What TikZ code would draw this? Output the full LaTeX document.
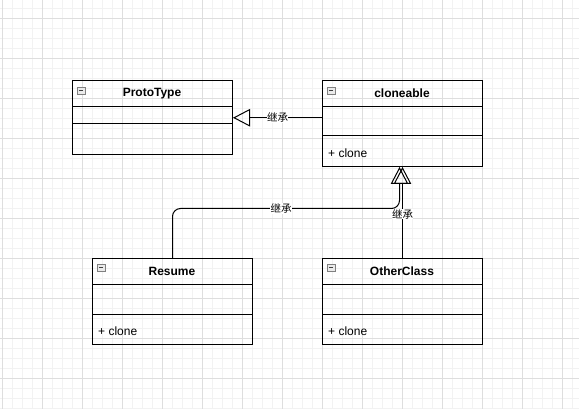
\documentclass[tikz,border=0pt]{standalone}
\usepackage{fontspec}
\setmainfont{Liberation Sans}
\newfontfamily\cjkfont{Noto Sans CJK SC}
\usetikzlibrary{arrows.meta}
\begin{document}
\begin{tikzpicture}[x=1pt,y=-1pt,
  gridminor/.style={draw=black!5, line width=0.8pt},
  gridmajor/.style={draw=black!13, line width=0.8pt},
  classbox/.style={draw, line width=1pt, inner sep=0pt, minimum width=160pt, anchor=north west},
  compartment/.style={line width=1pt},
  classname/.style={font=\bfseries\fontsize{12}{14}\selectfont, inner sep=0pt},
  member/.style={font=\fontsize{12}{14}\selectfont, anchor=west, inner sep=0pt},
  foldicon/.style={draw=black!50, fill=black!8, line width=0.6pt, minimum width=8pt, minimum height=7pt, inner sep=0pt,
    path picture={\draw[line width=1pt, black!75] ([xshift=-2.2pt]path picture bounding box.center) -- ([xshift=2.2pt]path picture bounding box.center);}},
  inherit/.style={draw, line width=1pt, -{Triangle[open, length=17pt, width=17.5pt, line width=1pt]}},
  edgelabel/.style={font=\cjkfont\fontsize{10.5}{12}\selectfont, fill=white, inner sep=0.3pt}
]
\useasboundingbox (0,0) rectangle (579,409);
\fill[white] (0,0) rectangle (579,409);

% background grid
\foreach \x in {2,12,...,572} \draw[gridminor] (\x,0) -- (\x,409);
\foreach \y in {8,18,...,408} \draw[gridminor] (0,\y) -- (579,\y);
\foreach \x in {2,42,...,562} \draw[gridmajor] (\x,0) -- (\x,409);
\foreach \y in {18,58,...,378} \draw[gridmajor] (0,\y) -- (579,\y);

% ProtoType
\node[classbox, minimum height=73.5pt] (proto) at (72,80.5) {};
\draw[compartment] ([yshift=-26pt]proto.north west) -- ([yshift=-26pt]proto.north east);
\draw[compartment] ([yshift=-43.5pt]proto.north west) -- ([yshift=-43.5pt]proto.north east);
\node[classname] (protoname) at (152,93.5) {ProtoType};
\node[foldicon] (protoicon) at (81,90.5) {};

% cloneable
\node[classbox, minimum height=85.5pt] (clone) at (322,80.5) {};
\draw[compartment] ([yshift=-26pt]clone.north west) -- ([yshift=-26pt]clone.north east);
\draw[compartment] ([yshift=-55.5pt]clone.north west) -- ([yshift=-55.5pt]clone.north east);
\node[classname] (clonename) at (402,93.5) {cloneable};
\node[foldicon] (cloneicon) at (331,90.5) {};
\node[member] (clonem) at (328,153.5) {+ clone};

% Resume
\node[classbox, minimum height=86pt] (resume) at (92,258) {};
\draw[compartment] ([yshift=-26pt]resume.north west) -- ([yshift=-26pt]resume.north east);
\draw[compartment] ([yshift=-56pt]resume.north west) -- ([yshift=-56pt]resume.north east);
\node[classname] (resumename) at (172,271) {Resume};
\node[foldicon] (resumeicon) at (101,268) {};
\node[member] (resumem) at (98,331) {+ clone};

% OtherClass
\node[classbox, minimum height=86pt] (other) at (322,258) {};
\draw[compartment] ([yshift=-26pt]other.north west) -- ([yshift=-26pt]other.north east);
\draw[compartment] ([yshift=-56pt]other.north west) -- ([yshift=-56pt]other.north east);
\node[classname] (othername) at (402,271) {OtherClass};
\node[foldicon] (othericon) at (331,268) {};
\node[member] (otherm) at (328,331) {+ clone};

% inheritance connectors
\draw[inherit] (clone.west |- proto.east) -- (proto.east)
  node[edgelabel, midway] (lab1) {继承};

\coordinate (bend) at (399.5,208.5);
\draw[inherit, rounded corners=8pt] (resume.north) |- (bend) -- (bend |- clone.south);
\node[edgelabel] (lab2) at (281,208.5) {继承};

\draw[inherit] (other.north) -- (other.north |- clone.south)
  node[edgelabel, pos=0.48] (lab3) {继承};
\end{tikzpicture}
\end{document}
